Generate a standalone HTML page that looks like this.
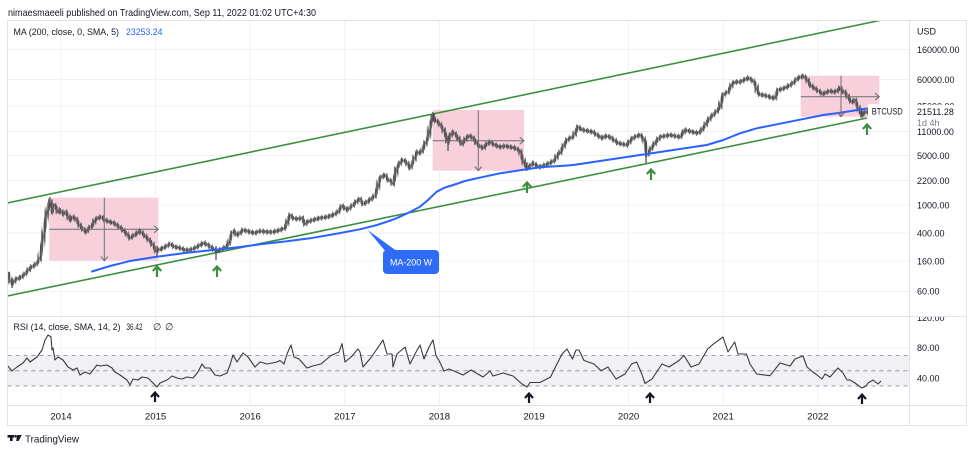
<!DOCTYPE html>
<html>
<head>
<meta charset="utf-8">
<style>
html,body{margin:0;padding:0;background:#fff;width:974px;height:453px;overflow:hidden;}
svg{display:block;}
text{font-family:"Liberation Sans",Arial,sans-serif;fill:#131722;}
</style>
</head>
<body>
<svg width="974" height="453" viewBox="0 0 974 453" xmlns="http://www.w3.org/2000/svg">
<defs>
  <clipPath id="pc"><rect x="7.5" y="20.5" width="901.5" height="295.5"/></clipPath>
  <clipPath id="rc"><rect x="7.5" y="316.5" width="901.5" height="88.5"/></clipPath>
  <pattern id="vs" patternUnits="userSpaceOnUse" x="0" y="0" width="1.82" height="20">
    <rect x="0" y="0" width="1.1" height="20" fill="#4a4a4a"/>
  </pattern>
  <pattern id="vs2" patternUnits="userSpaceOnUse" x="0.9" y="0" width="3.64" height="20">
    <rect x="0" y="0" width="0.9" height="20" fill="#666"/>
  </pattern>
</defs>
<rect width="974" height="453" fill="#fff"/>

<!-- header -->
<text x="8" y="16" font-size="10.5" fill="#2a2e39" textLength="308" lengthAdjust="spacingAndGlyphs">nimaesmaeeli published on TradingView.com, Sep 11, 2022 01:02 UTC+4:30</text>

<!-- grid -->
<g stroke="#eef0f4" stroke-width="1">
  <line x1="61" y1="20" x2="61" y2="405"/>
  <line x1="155.6" y1="20" x2="155.6" y2="405"/>
  <line x1="250.2" y1="20" x2="250.2" y2="405"/>
  <line x1="344.8" y1="20" x2="344.8" y2="405"/>
  <line x1="439.4" y1="20" x2="439.4" y2="405"/>
  <line x1="534" y1="20" x2="534" y2="405"/>
  <line x1="628.6" y1="20" x2="628.6" y2="405"/>
  <line x1="723.2" y1="20" x2="723.2" y2="405"/>
  <line x1="817.8" y1="20" x2="817.8" y2="405"/>
  <line x1="7" y1="49.5" x2="909" y2="49.5"/>
  <line x1="7" y1="79.5" x2="909" y2="79.5"/>
  <line x1="7" y1="106" x2="909" y2="106"/>
  <line x1="7" y1="131.5" x2="909" y2="131.5"/>
  <line x1="7" y1="155.5" x2="909" y2="155.5"/>
  <line x1="7" y1="180.5" x2="909" y2="180.5"/>
  <line x1="7" y1="205" x2="909" y2="205"/>
  <line x1="7" y1="233" x2="909" y2="233"/>
  <line x1="7" y1="261" x2="909" y2="261"/>
  <line x1="7" y1="291.5" x2="909" y2="291.5"/>
  <line x1="7" y1="348" x2="909" y2="348"/>
  <line x1="7" y1="378.5" x2="909" y2="378.5"/>
</g>

<!-- RSI band -->
<rect x="7.5" y="355.5" width="901.5" height="30.5" fill="#f1f1f5"/>
<g stroke="#9a9da6" stroke-width="1" stroke-dasharray="4,4">
  <line x1="7.5" y1="355.5" x2="909" y2="355.5"/>
  <line x1="7.5" y1="370.8" x2="909" y2="370.8"/>
  <line x1="7.5" y1="386" x2="909" y2="386"/>
</g>

<!-- pink range boxes -->
<g fill="#f8d0dc">
  <rect x="49.3" y="197.7" width="109" height="63"/>
  <rect x="432.7" y="110" width="91.3" height="60.7"/>
  <rect x="800.7" y="75.7" width="78.6" height="41"/>
</g>

<!-- channel lines -->
<g stroke="#3b8f3e" stroke-width="1.6" fill="none" clip-path="url(#pc)">
  <line x1="7" y1="203" x2="882" y2="20"/>
  <line x1="7" y1="296" x2="867" y2="118"/>
</g>

<!-- price series -->
<g clip-path="url(#pc)" fill="none" stroke-linejoin="round">
<polyline stroke="url(#vs2)" stroke-width="6" points="8,272 10,280 12,284 16,279 20,278 25,274 30,268 35,265 38,262 40,258 42,245 44,232 46,218 48,208 50,201 52,212 54,205 56,207 58,212 60,210 63,214 66,212 70,220 73,217 76,219 80,226 83,229 86,232 89,228 92,226 95,220 98,218 101,217 105,220 110,222 114,223 118,226 122,229 126,233 130,238 133,236 136,234 140,231 143,234 146,237 150,241 153,245 156,251 158,250 161,249 165,247 170,244 175,247 180,248 185,250 190,250 195,248 200,245 204,243 208,245 212,248 215,250 218,251 222,249 226,247 229,243 232,233 234,231 237,235 240,233 243,230 247,231 250,232 255,233 260,231 267,232 273,232 280,230 285,228 288,220 290,215 293,218 297,219 302,218 305,224 307,222 313,220 320,218 327,217 333,215 338,212 342,206 345,208 347,210 352,206 357,201 360,199 363,204 367,202 371,199 375,196 378,186 380,178 383,176 385,175 388,180 391,181 393,184 395,176 397,168 400,163 402,160 405,161 407,163 410,168 413,162 415,157 417,152 420,153 422,151 425,144 428,138 430,128 431,123 433,116 435,120 438,122 442,127 445,133 448,142 450,136 453,132 456,135 458,138 462,144 465,140 467,137 470,136 473,138 476,142 478,145 481,147 483,148 487,144 490,142 493,144 495,145 500,147 505,146 510,147 515,148 520,151 523,160 525,165 527,168 530,166 533,163 537,166 540,167 545,165 550,163 555,160 558,154 560,153 563,147 567,140 570,138 573,137 576,131 578,127 581,129 583,130 588,131 593,132 597,135 602,138 606,136 610,137 614,140 618,143 622,144 627,145 630,141 633,138 637,136 640,135 643,138 645,142 647,155 650,150 653,146 655,143 660,137 665,136 670,135 675,136 680,137 683,133 685,130 689,131 693,132 697,133 700,132 704,127 707,122 710,118 713,115 717,111 720,107 722,99 723,95 726,93 728,92 731,86 733,83 736,82 740,82 744,80 748,78 752,80 755,83 757,90 758,93 761,95 763,95 767,96 770,97 773,98 775,98 778,90 782,89 787,87 790,85 793,83 796,80 798,78 801,77 803,76 806,78 808,81 810,85 813,87 817,90 820,92 823,94 827,92 830,91 834,92 837,91 840,88 843,92 845,92 848,97 850,100 852,102 855,100 858,107 860,112 862,115 865,112 868,112 872,111 876,111 881,111"/>
<polyline stroke="url(#vs)" stroke-width="3.6" points="8,272 10,280 12,284 16,279 20,278 25,274 30,268 35,265 38,262 40,258 42,245 44,232 46,218 48,208 50,201 52,212 54,205 56,207 58,212 60,210 63,214 66,212 70,220 73,217 76,219 80,226 83,229 86,232 89,228 92,226 95,220 98,218 101,217 105,220 110,222 114,223 118,226 122,229 126,233 130,238 133,236 136,234 140,231 143,234 146,237 150,241 153,245 156,251 158,250 161,249 165,247 170,244 175,247 180,248 185,250 190,250 195,248 200,245 204,243 208,245 212,248 215,250 218,251 222,249 226,247 229,243 232,233 234,231 237,235 240,233 243,230 247,231 250,232 255,233 260,231 267,232 273,232 280,230 285,228 288,220 290,215 293,218 297,219 302,218 305,224 307,222 313,220 320,218 327,217 333,215 338,212 342,206 345,208 347,210 352,206 357,201 360,199 363,204 367,202 371,199 375,196 378,186 380,178 383,176 385,175 388,180 391,181 393,184 395,176 397,168 400,163 402,160 405,161 407,163 410,168 413,162 415,157 417,152 420,153 422,151 425,144 428,138 430,128 431,123 433,116 435,120 438,122 442,127 445,133 448,142 450,136 453,132 456,135 458,138 462,144 465,140 467,137 470,136 473,138 476,142 478,145 481,147 483,148 487,144 490,142 493,144 495,145 500,147 505,146 510,147 515,148 520,151 523,160 525,165 527,168 530,166 533,163 537,166 540,167 545,165 550,163 555,160 558,154 560,153 563,147 567,140 570,138 573,137 576,131 578,127 581,129 583,130 588,131 593,132 597,135 602,138 606,136 610,137 614,140 618,143 622,144 627,145 630,141 633,138 637,136 640,135 643,138 645,142 647,155 650,150 653,146 655,143 660,137 665,136 670,135 675,136 680,137 683,133 685,130 689,131 693,132 697,133 700,132 704,127 707,122 710,118 713,115 717,111 720,107 722,99 723,95 726,93 728,92 731,86 733,83 736,82 740,82 744,80 748,78 752,80 755,83 757,90 758,93 761,95 763,95 767,96 770,97 773,98 775,98 778,90 782,89 787,87 790,85 793,83 796,80 798,78 801,77 803,76 806,78 808,81 810,85 813,87 817,90 820,92 823,94 827,92 830,91 834,92 837,91 840,88 843,92 845,92 848,97 850,100 852,102 855,100 858,107 860,112 862,115 865,112 868,112 872,111 876,111 881,111"/>
<polyline stroke="#555" stroke-width="0.7" points="8,272 10,280 12,284 16,279 20,278 25,274 30,268 35,265 38,262 40,258 42,245 44,232 46,218 48,208 50,201 52,212 54,205 56,207 58,212 60,210 63,214 66,212 70,220 73,217 76,219 80,226 83,229 86,232 89,228 92,226 95,220 98,218 101,217 105,220 110,222 114,223 118,226 122,229 126,233 130,238 133,236 136,234 140,231 143,234 146,237 150,241 153,245 156,251 158,250 161,249 165,247 170,244 175,247 180,248 185,250 190,250 195,248 200,245 204,243 208,245 212,248 215,250 218,251 222,249 226,247 229,243 232,233 234,231 237,235 240,233 243,230 247,231 250,232 255,233 260,231 267,232 273,232 280,230 285,228 288,220 290,215 293,218 297,219 302,218 305,224 307,222 313,220 320,218 327,217 333,215 338,212 342,206 345,208 347,210 352,206 357,201 360,199 363,204 367,202 371,199 375,196 378,186 380,178 383,176 385,175 388,180 391,181 393,184 395,176 397,168 400,163 402,160 405,161 407,163 410,168 413,162 415,157 417,152 420,153 422,151 425,144 428,138 430,128 431,123 433,116 435,120 438,122 442,127 445,133 448,142 450,136 453,132 456,135 458,138 462,144 465,140 467,137 470,136 473,138 476,142 478,145 481,147 483,148 487,144 490,142 493,144 495,145 500,147 505,146 510,147 515,148 520,151 523,160 525,165 527,168 530,166 533,163 537,166 540,167 545,165 550,163 555,160 558,154 560,153 563,147 567,140 570,138 573,137 576,131 578,127 581,129 583,130 588,131 593,132 597,135 602,138 606,136 610,137 614,140 618,143 622,144 627,145 630,141 633,138 637,136 640,135 643,138 645,142 647,155 650,150 653,146 655,143 660,137 665,136 670,135 675,136 680,137 683,133 685,130 689,131 693,132 697,133 700,132 704,127 707,122 710,118 713,115 717,111 720,107 722,99 723,95 726,93 728,92 731,86 733,83 736,82 740,82 744,80 748,78 752,80 755,83 757,90 758,93 761,95 763,95 767,96 770,97 773,98 775,98 778,90 782,89 787,87 790,85 793,83 796,80 798,78 801,77 803,76 806,78 808,81 810,85 813,87 817,90 820,92 823,94 827,92 830,91 834,92 837,91 840,88 843,92 845,92 848,97 850,100 852,102 855,100 858,107 860,112 862,115 865,112 868,112 872,111 876,111 881,111"/>
<g stroke="#4a4a4a" stroke-width="1.2">
  <line x1="12" y1="278" x2="12" y2="288"/>
  <line x1="50" y1="197" x2="50" y2="208"/>
  <line x1="157" y1="246" x2="157" y2="257"/>
  <line x1="216" y1="246" x2="216" y2="260"/>
  <line x1="433" y1="112" x2="433" y2="122"/>
  <line x1="448" y1="136" x2="448" y2="151"/>
  <line x1="527" y1="162" x2="527" y2="171"/>
  <line x1="646" y1="140" x2="646" y2="163"/>
  <line x1="862" y1="108" x2="862" y2="118"/>
</g>
</g>

<!-- MA 200 -->
<polyline fill="none" stroke="#2962ff" stroke-width="2" stroke-linejoin="round" stroke-linecap="round" points="92,271.5 110,266 130,261 155,257 185,253 213,250 240,247 260,244.3 285,241.5 310,238.3 335,234 360,229.3 377,225 392,220 400,216.7 410,212 420,206.7 428,200 436.7,191.7 445,187.5 453.3,185 465,181 476.7,178.3 500,173.3 526.7,169.3 540,167.3 560,166 573.3,165 606.7,160 640,155 673.3,150 706.7,145 723.3,140 740,133.3 756.7,128.3 790,121.7 823.3,115 840,112.7 867,108.5"/>

<!-- range tool lines -->
<g stroke="#6e6e6e" stroke-width="1" fill="none">
  <line x1="49.3" y1="229.3" x2="158.3" y2="229.3"/>
  <path d="M154 225.8 L158.3 229.3 L154 232.8"/>
  <line x1="104.3" y1="197.7" x2="104.3" y2="260.7"/>
  <path d="M100.8 256.5 L104.3 260.7 L107.8 256.5"/>
  <line x1="432.7" y1="140.7" x2="524" y2="140.7"/>
  <path d="M519.7 137.2 L524 140.7 L519.7 144.2"/>
  <line x1="478.3" y1="110" x2="478.3" y2="170.7"/>
  <path d="M474.8 166.5 L478.3 170.7 L481.8 166.5"/>
  <line x1="800.7" y1="96.7" x2="879.3" y2="96.7"/>
  <path d="M875 93.2 L879.3 96.7 L875 100.2"/>
  <line x1="841" y1="75.7" x2="841" y2="116.7"/>
  <path d="M837.5 112.5 L841 116.7 L844.5 112.5"/>
</g>

<!-- MA callout -->
<path d="M367.7 230 L386 252 L398 252 Z" fill="#2f6cf5"/>
<rect x="383" y="250" width="56" height="24" rx="4" fill="#2f6cf5"/>
<text x="411" y="265.5" font-size="9.5" text-anchor="middle" style="fill:#fff" textLength="42" lengthAdjust="spacingAndGlyphs">MA-200 W</text>

<!-- green arrows -->
<g stroke="#3b8f3e" stroke-width="2.2" fill="none" stroke-linejoin="miter">
  <path d="M157 277 V266.8 M152.8 271 L157 266.5 L161.2 271"/>
  <path d="M217 277 V266.8 M212.8 271 L217 266.5 L221.2 271"/>
  <path d="M527 193 V182.8 M522.8 187 L527 182.5 L531.2 187"/>
  <path d="M651 180 V169.8 M646.8 174 L651 169.5 L655.2 174"/>
  <path d="M867 135 V124.8 M862.8 129 L867 124.5 L871.2 129"/>
</g>

<!-- RSI line -->
<g clip-path="url(#rc)">
<polyline fill="none" stroke="#3a3a3a" stroke-width="1.1" stroke-linejoin="round" points="7,365 12,371 17,367 23,363 27,358 30,362 37,357 42,350 45,340 48,335 51,337 52,350 53,348 55,360 58,357 63,360 68,367 73,370 77,368 80,375 85,372 90,374 93,370 97,365 100,366 107,365 112,368 115,372 120,375 127,380 130,385 133,379 138,380 142,377 148,378 153,383 157,387 160,383 167,380 172,376 177,378 182,379 187,377 193,378 198,372 202,364 205,368 210,368 215,375 220,376 227,373 230,365 233,355 237,362 243,353 248,357 255,367 260,362 267,364 277,362 280,360.5 284,364 287,354 291,345 294,357 299,359 307,368 314,365.6 321,364 331,355.5 339,352 342,343.6 345,362 351,357 358,349 360,352 363,367 371.5,357 383,340 387,354 392,354 393,367 397,354 405,347 410,364 415,354 420,345 424,359 429,347 433,340 436,355.5 439,360.5 444,371 449,369 454,371 463,375 471,370 483,377 490,371 493,376 503,373 513,376 522,384 527,387 530,382.5 540,382.5 550.5,377 557,364 562,354 567,349 572.5,359 576,350 579,350 584,360.5 594,364 601,370.7 608,367 616,379 625,374 631.6,364 636.7,362 641.8,374 645,383.5 652,379 662,364 669,367 679,360.5 684,355.5 691,367 699,364 707.6,349 714,343.6 723,337 728,352 734.7,342 738,354 746.5,354 750,364 756.6,374 770,375.7 780,363 790,366 795,359 803,356 807,367 813,372 817,375 822,379 825,374 830,377 838,368 843,373 847,380 850,380 855,383 859,386 862,388 866,386 868,383 873,380 878,384 881,381"/>
</g>

<!-- black arrows RSI -->
<g stroke="#131722" stroke-width="2.2" fill="none">
  <path d="M155 402 V392.8 M151 397 L155 392.5 L159 397"/>
  <path d="M529 403 V393.8 M525 398 L529 393.5 L533 398"/>
  <path d="M650 403 V393.8 M646 398 L650 393.5 L654 398"/>
  <path d="M862 404 V394.8 M858 399 L862 394.5 L866 399"/>
</g>

<!-- legends -->
<text x="13.5" y="35" font-size="9.5" textLength="105.5" lengthAdjust="spacingAndGlyphs">MA (200, close, 0, SMA, 5)</text>
<text x="126" y="35" font-size="9.5" style="fill:#2962ff" textLength="36.5" lengthAdjust="spacingAndGlyphs">23253.24</text>
<text x="13.5" y="330" font-size="9.3" textLength="107" lengthAdjust="spacingAndGlyphs">RSI (14, close, SMA, 14, 2)</text>
<text x="126.5" y="330" font-size="9.3" textLength="16" lengthAdjust="spacingAndGlyphs">36.42</text>
<text x="153" y="330" font-size="9.3">∅</text>
<text x="165" y="330" font-size="9.3">∅</text>

<!-- frame -->
<g stroke="#e0e3eb" stroke-width="1" fill="none">
  <rect x="7.5" y="20.5" width="959" height="405"/>
  <line x1="909.5" y1="20.5" x2="909.5" y2="425.5"/>
  <line x1="7.5" y1="316.5" x2="966.5" y2="316.5"/>
  <line x1="7.5" y1="405.5" x2="966.5" y2="405.5"/>
</g>

<!-- price axis -->
<g font-size="9">
  <text x="917" y="34.3">USD</text>
  <text x="917" y="52.8">160000.00</text>
  <text x="917" y="82.8">60000.00</text>
  <text x="917" y="109.3">25000.00</text>
  <text x="917" y="134.8">11000.00</text>
  <text x="917" y="158.8">5000.00</text>
  <text x="917" y="184">2200.00</text>
  <text x="917" y="208.3">1000.00</text>
  <text x="917" y="236.4">400.00</text>
  <text x="917" y="264.5">160.00</text>
  <text x="917" y="294.6">60.00</text>
  <text x="917" y="321">120.00</text>
  <text x="917" y="351">80.00</text>
  <text x="917" y="381.6">40.00</text>
</g>
<rect x="910" y="308" width="56" height="8" fill="#fff"/>
<line x1="909.5" y1="300" x2="909.5" y2="320" stroke="#e0e3eb"/>
<line x1="909" y1="316.5" x2="966.5" y2="316.5" stroke="#e0e3eb"/>

<!-- last price label -->
<rect x="910" y="105" width="56" height="22" fill="#fff"/>
<text x="917" y="115" font-size="9">21511.28</text>
<text x="917" y="126" font-size="9" style="fill:#787b86">1d 4h</text>

<!-- BTCUSD label -->
<rect x="868" y="104" width="40" height="14.5" fill="#fff"/>
<text x="871.7" y="114.5" font-size="9.3" textLength="31" lengthAdjust="spacingAndGlyphs">BTCUSD</text>

<!-- time axis -->
<g font-size="9.6" text-anchor="middle">
  <text x="61" y="419.5">2014</text>
  <text x="155.6" y="419.5">2015</text>
  <text x="250.2" y="419.5">2016</text>
  <text x="344.8" y="419.5">2017</text>
  <text x="439.4" y="419.5">2018</text>
  <text x="534" y="419.5">2019</text>
  <text x="628.6" y="419.5">2020</text>
  <text x="723.2" y="419.5">2021</text>
  <text x="817.8" y="419.5">2022</text>
</g>

<!-- TradingView logo -->
<g fill="#131722">
  <rect x="7.5" y="435" width="6.5" height="2.6"/>
  <rect x="10" y="435" width="2.6" height="6"/>
  <circle cx="15.6" cy="436.3" r="1.35"/>
  <path d="M17.2 435 H21.8 L18.6 441 H16.2 Z"/>
</g>
<text x="25" y="442.5" font-size="10.5" textLength="54" lengthAdjust="spacingAndGlyphs">TradingView</text>
</svg>
</body>
</html>
